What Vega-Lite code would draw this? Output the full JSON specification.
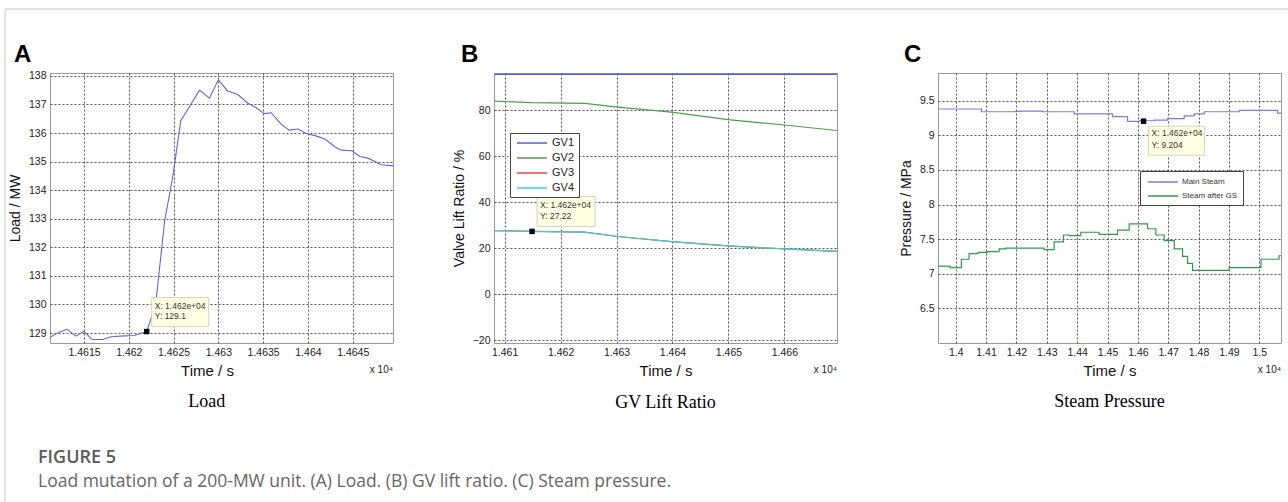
{
  "$schema": "https://vega.github.io/schema/vega-lite/v6.json",
  "background": "white",
  "padding": {"left": 4, "top": 8, "right": 0, "bottom": 0},
  "config": {
    "font": "Liberation Sans",
    "view": {"stroke": "#9a9a9a"},
    "axis": {"labelFont": "Liberation Sans", "labelFontSize": 10.5, "labelColor": "#222", "labelOverlap": false, "tickCount": 100, "titleFont": "Liberation Sans", "titleFontWeight": "normal", "titleColor": "#111", "gridColor": "#444", "gridDash": [2, 2], "gridOpacity": 0.9, "ticks": false, "domain": false, "labelPadding": 4},
    "axisX": {"titleFontSize": 15, "titlePadding": 6},
    "axisY": {"titleFontSize": 14, "titlePadding": 6}
  },
  "datasets": {
    "load": [
      {"t": 14611.2, "v": 128.85}, {"t": 14612.2, "v": 129.03}, {"t": 14613.1, "v": 129.13}, {"t": 14614.1, "v": 128.89},
      {"t": 14615.0, "v": 129.06}, {"t": 14615.9, "v": 128.77}, {"t": 14617.1, "v": 128.77}, {"t": 14618.0, "v": 128.87},
      {"t": 14619.5, "v": 128.9}, {"t": 14620.6, "v": 128.91}, {"t": 14622.0, "v": 129.05}, {"t": 14623.0, "v": 130.0},
      {"t": 14624.0, "v": 132.93}, {"t": 14624.9, "v": 134.45}, {"t": 14625.8, "v": 136.43}, {"t": 14626.6, "v": 136.83},
      {"t": 14627.9, "v": 137.5}, {"t": 14629.0, "v": 137.22}, {"t": 14630.0, "v": 137.86}, {"t": 14631.0, "v": 137.48},
      {"t": 14632.2, "v": 137.34}, {"t": 14633.3, "v": 137.04}, {"t": 14634.2, "v": 136.89}, {"t": 14635.1, "v": 136.68},
      {"t": 14635.9, "v": 136.71}, {"t": 14637.0, "v": 136.31}, {"t": 14637.9, "v": 136.1}, {"t": 14638.9, "v": 136.14},
      {"t": 14639.8, "v": 135.98}, {"t": 14640.9, "v": 135.9}, {"t": 14641.9, "v": 135.79}, {"t": 14643.0, "v": 135.52},
      {"t": 14643.7, "v": 135.4}, {"t": 14644.9, "v": 135.38}, {"t": 14645.8, "v": 135.18}, {"t": 14646.7, "v": 135.12},
      {"t": 14648.2, "v": 134.89}, {"t": 14649.5, "v": 134.85}
    ],
    "gv": [
      {"s": "GV1", "t": 14608.1, "v": 95.5}, {"s": "GV1", "t": 14669.4, "v": 95.5},
      {"s": "GV2", "t": 14608.1, "v": 83.9}, {"s": "GV2", "t": 14614.8, "v": 83.2}, {"s": "GV2", "t": 14624.3, "v": 82.9},
      {"s": "GV2", "t": 14630.2, "v": 81.3}, {"s": "GV2", "t": 14639.8, "v": 79.1}, {"s": "GV2", "t": 14649.9, "v": 75.8},
      {"s": "GV2", "t": 14660.0, "v": 73.5}, {"s": "GV2", "t": 14669.4, "v": 71.1},
      {"s": "GV3", "t": 14608.1, "v": 27.6}, {"s": "GV3", "t": 14614.8, "v": 27.22}, {"s": "GV3", "t": 14624.3, "v": 26.9},
      {"s": "GV3", "t": 14630.2, "v": 25.0}, {"s": "GV3", "t": 14639.8, "v": 22.8}, {"s": "GV3", "t": 14649.9, "v": 20.9},
      {"s": "GV3", "t": 14660.0, "v": 19.6}, {"s": "GV3", "t": 14669.4, "v": 18.5},
      {"s": "GV4", "t": 14608.1, "v": 27.6}, {"s": "GV4", "t": 14614.8, "v": 27.22}, {"s": "GV4", "t": 14624.3, "v": 26.9},
      {"s": "GV4", "t": 14630.2, "v": 25.0}, {"s": "GV4", "t": 14639.8, "v": 22.8}, {"s": "GV4", "t": 14649.9, "v": 20.9},
      {"s": "GV4", "t": 14660.0, "v": 19.6}, {"s": "GV4", "t": 14669.4, "v": 18.5}
    ],
    "pressure": [
      {"s": "Main Steam", "t": 13941.8, "v": 9.38}, {"s": "Main Steam", "t": 14084.6, "v": 9.34}, {"s": "Main Steam", "t": 14197.8, "v": 9.345},
      {"s": "Main Steam", "t": 14214.3, "v": 9.35}, {"s": "Main Steam", "t": 14285.7, "v": 9.34}, {"s": "Main Steam", "t": 14390.1, "v": 9.31},
      {"s": "Main Steam", "t": 14516.5, "v": 9.27}, {"s": "Main Steam", "t": 14565.9, "v": 9.2}, {"s": "Main Steam", "t": 14604.4, "v": 9.21},
      {"s": "Main Steam", "t": 14653.8, "v": 9.22}, {"s": "Main Steam", "t": 14697.8, "v": 9.24}, {"s": "Main Steam", "t": 14752.7, "v": 9.28},
      {"s": "Main Steam", "t": 14785.7, "v": 9.31}, {"s": "Main Steam", "t": 14818.7, "v": 9.34}, {"s": "Main Steam", "t": 14934.1, "v": 9.36},
      {"s": "Main Steam", "t": 15060.4, "v": 9.32}, {"s": "Main Steam", "t": 15071.5, "v": 9.32},
      {"s": "Steam after GS", "t": 13941.8, "v": 7.11}, {"s": "Steam after GS", "t": 13981.3, "v": 7.09}, {"s": "Steam after GS", "t": 14018.7, "v": 7.21},
      {"s": "Steam after GS", "t": 14044.0, "v": 7.29}, {"s": "Steam after GS", "t": 14073.6, "v": 7.31}, {"s": "Steam after GS", "t": 14104.4, "v": 7.32},
      {"s": "Steam after GS", "t": 14142.9, "v": 7.36}, {"s": "Steam after GS", "t": 14164.8, "v": 7.37}, {"s": "Steam after GS", "t": 14291.2, "v": 7.35},
      {"s": "Steam after GS", "t": 14324.2, "v": 7.46}, {"s": "Steam after GS", "t": 14354.9, "v": 7.56}, {"s": "Steam after GS", "t": 14373.6, "v": 7.55},
      {"s": "Steam after GS", "t": 14412.1, "v": 7.6}, {"s": "Steam after GS", "t": 14472.5, "v": 7.57}, {"s": "Steam after GS", "t": 14533.0, "v": 7.63},
      {"s": "Steam after GS", "t": 14571.4, "v": 7.72}, {"s": "Steam after GS", "t": 14631.9, "v": 7.65}, {"s": "Steam after GS", "t": 14659.3, "v": 7.56},
      {"s": "Steam after GS", "t": 14686.8, "v": 7.48}, {"s": "Steam after GS", "t": 14719.8, "v": 7.36}, {"s": "Steam after GS", "t": 14747.3, "v": 7.25},
      {"s": "Steam after GS", "t": 14763.7, "v": 7.15}, {"s": "Steam after GS", "t": 14780.2, "v": 7.05}, {"s": "Steam after GS", "t": 14901.1, "v": 7.09},
      {"s": "Steam after GS", "t": 15005.5, "v": 7.21}, {"s": "Steam after GS", "t": 15065.0, "v": 7.26}, {"s": "Steam after GS", "t": 15071.5, "v": 7.26}
    ]
  },
  "bounds": "flush",
  "spacing": 101,
  "resolve": {"scale": {"color": "independent"}, "legend": {"color": "independent"}},
  "hconcat": [
    {
      "width": 343, "height": 270,
      "layer": [
        {
          "data": {"name": "load"},
          "mark": {"type": "line", "clip": true, "color": "#6464dc", "strokeWidth": 1.1},
          "encoding": {
            "x": {"field": "t", "type": "quantitative", "scale": {"domain": [14611.2, 14649.5], "nice": false, "zero": false},
                  "axis": {"title": "Time / s", "values": [14615, 14620, 14625, 14630, 14635, 14640, 14645], "labelExpr": "format(datum.value/10000, '.4~f')", "titleX": 157}},
            "y": {"field": "v", "type": "quantitative", "scale": {"domain": [128.65, 138.1], "nice": false, "zero": false},
                  "axis": {"title": "Load / MW", "values": [129, 130, 131, 132, 133, 134, 135, 136, 137, 138], "format": "d"}}
          }
        },
        {
          "data": {"values": [{"t": 14622.0, "v": 129.05, "tip": "X: 1.462e+04\nY: 129.1"}]},
          "layer": [
            {"mark": {"type": "rect", "fill": "#ffffe4", "stroke": "#d6d6b4", "strokeWidth": 1, "xOffset": 5, "x2Offset": 62, "yOffset": -34, "y2Offset": -5},
             "encoding": {"x": {"field": "t", "type": "quantitative"}, "x2": {"field": "t"}, "y": {"field": "v", "type": "quantitative"}, "y2": {"field": "v"}}},
            {"mark": {"type": "text", "align": "left", "baseline": "top", "dx": 8, "dy": -30, "fontSize": 8.5, "lineHeight": 10, "lineBreak": "\n", "color": "#333"},
             "encoding": {"x": {"field": "t", "type": "quantitative"}, "y": {"field": "v", "type": "quantitative"}, "text": {"field": "tip"}}},
            {"mark": {"type": "square", "filled": true, "color": "black", "size": 30, "opacity": 1},
             "encoding": {"x": {"field": "t", "type": "quantitative"}, "y": {"field": "v", "type": "quantitative"}}}
          ]
        },
        {
          "data": {"values": [{"label": "A"}]},
          "mark": {"type": "text", "align": "left", "baseline": "alphabetic", "dx": -36, "dy": -11, "fontSize": 24, "fontWeight": "bold", "color": "black"},
          "encoding": {"x": {"datum": 14611.2, "type": "quantitative"}, "y": {"datum": 138.1, "type": "quantitative"}, "text": {"field": "label"}}
        },
        {
          "data": {"values": [{"label": "x 10⁴"}]},
          "mark": {"type": "text", "align": "right", "baseline": "alphabetic", "dy": 30, "fontSize": 10, "color": "#222"},
          "encoding": {"x": {"datum": 14649.5, "type": "quantitative"}, "y": {"datum": 128.65, "type": "quantitative"}, "text": {"field": "label"}}
        },
        {
          "data": {"values": [{"label": "Load"}]},
          "mark": {"type": "text", "align": "center", "baseline": "alphabetic", "dy": 64, "font": "Liberation Serif", "fontSize": 18, "color": "black"},
          "encoding": {"x": {"datum": 14628.7, "type": "quantitative"}, "y": {"datum": 128.65, "type": "quantitative"}, "text": {"field": "label"}}
        },
        {
          "data": {"values": [{"label": "FIGURE 5"}]},
          "mark": {"type": "text", "align": "left", "baseline": "alphabetic", "dx": -12, "dy": 120, "font": "Open Sans", "fontSize": 18, "fontWeight": 600, "color": "#5a5a5a"},
          "encoding": {"x": {"datum": 14611.2, "type": "quantitative"}, "y": {"datum": 128.65, "type": "quantitative"}, "text": {"field": "label"}}
        },
        {
          "data": {"values": [{"label": "Load mutation of a 200-MW unit. (A) Load. (B) GV lift ratio. (C) Steam pressure."}]},
          "mark": {"type": "text", "align": "left", "baseline": "alphabetic", "dx": -12, "dy": 144, "font": "Open Sans", "fontSize": 17.5, "color": "#666"},
          "encoding": {"x": {"datum": 14611.2, "type": "quantitative"}, "y": {"datum": 128.65, "type": "quantitative"}, "text": {"field": "label"}}
        },
        {
          "data": {"values": [{"edge": "top"}]},
          "mark": {"type": "rule", "color": "#c8c8c8", "strokeWidth": 1, "xOffset": -45, "x2Offset": 900, "yOffset": -64, "y2Offset": -64},
          "encoding": {"x": {"datum": 14611.2, "type": "quantitative"}, "x2": {"datum": 14649.5}, "y": {"datum": 138.1, "type": "quantitative"}, "y2": {"datum": 138.1}}
        },
        {
          "data": {"values": [{"edge": "left"}]},
          "mark": {"type": "rule", "color": "#c8c8c8", "strokeWidth": 1, "xOffset": -45, "x2Offset": -45, "yOffset": -64, "y2Offset": 165},
          "encoding": {"x": {"datum": 14611.2, "type": "quantitative"}, "x2": {"datum": 14611.2}, "y": {"datum": 138.1, "type": "quantitative"}, "y2": {"datum": 128.65}}
        }
      ]
    },
    {
      "width": 343, "height": 270,
      "layer": [
        {
          "data": {"name": "gv"},
          "mark": {"type": "line", "clip": true, "strokeWidth": 1.2},
          "encoding": {
            "x": {"field": "t", "type": "quantitative", "scale": {"domain": [14608.1, 14669.4], "nice": false, "zero": false},
                  "axis": {"title": "Time / s", "values": [14610, 14620, 14630, 14640, 14650, 14660], "labelExpr": "format(datum.value/10000, '.4~f')"}},
            "y": {"field": "v", "type": "quantitative", "scale": {"domain": [-21.3, 96.1], "nice": false, "zero": false},
                  "axis": {"title": "Valve Lift Ratio / %", "values": [-20, 0, 20, 40, 60, 80], "format": "d"}},
            "color": {"field": "s", "type": "nominal", "scale": {"domain": ["GV1", "GV2", "GV3", "GV4"], "range": ["#5a5ade", "#4aa04a", "#e04848", "#3ccfcf"]},
                      "legend": {"title": null, "orient": "none", "legendX": 16, "legendY": 60, "symbolType": "M-3,0H3", "symbolSize": 100, "symbolStrokeWidth": 1.5, "symbolOffset": 12,
                                 "labelFontSize": 11, "labelFont": "Liberation Sans", "labelColor": "#222", "strokeColor": "#444", "fillColor": "white", "padding": 4, "rowPadding": 4, "labelOffset": 14}}
          }
        },
        {
          "data": {"values": [{"t": 14614.9, "v": 27.22, "tip": "X: 1.462e+04\nY: 27.22"}]},
          "layer": [
            {"mark": {"type": "rect", "fill": "#ffffe4", "stroke": "#d6d6b4", "strokeWidth": 1, "xOffset": 5, "x2Offset": 63, "yOffset": -35, "y2Offset": -5},
             "encoding": {"x": {"field": "t", "type": "quantitative"}, "x2": {"field": "t"}, "y": {"field": "v", "type": "quantitative"}, "y2": {"field": "v"}}},
            {"mark": {"type": "text", "align": "left", "baseline": "top", "dx": 8, "dy": -30, "fontSize": 8.5, "lineHeight": 11, "lineBreak": "\n", "color": "#333"},
             "encoding": {"x": {"field": "t", "type": "quantitative"}, "y": {"field": "v", "type": "quantitative"}, "text": {"field": "tip"}}},
            {"mark": {"type": "square", "filled": true, "color": "black", "size": 30, "opacity": 1},
             "encoding": {"x": {"field": "t", "type": "quantitative"}, "y": {"field": "v", "type": "quantitative"}}}
          ]
        },
        {
          "data": {"values": [{"label": "B"}]},
          "mark": {"type": "text", "align": "left", "baseline": "alphabetic", "dx": -33, "dy": -11, "fontSize": 24, "fontWeight": "bold", "color": "black"},
          "encoding": {"x": {"datum": 14608.1, "type": "quantitative"}, "y": {"datum": 96.1, "type": "quantitative"}, "text": {"field": "label"}}
        },
        {
          "data": {"values": [{"label": "x 10⁴"}]},
          "mark": {"type": "text", "align": "right", "baseline": "alphabetic", "dy": 30, "fontSize": 10, "color": "#222"},
          "encoding": {"x": {"datum": 14669.4, "type": "quantitative"}, "y": {"datum": -21.3, "type": "quantitative"}, "text": {"field": "label"}}
        },
        {
          "data": {"values": [{"label": "GV Lift Ratio"}]},
          "mark": {"type": "text", "align": "center", "baseline": "alphabetic", "dy": 65, "font": "Liberation Serif", "fontSize": 18, "color": "black"},
          "encoding": {"x": {"datum": 14638.75, "type": "quantitative"}, "y": {"datum": -21.3, "type": "quantitative"}, "text": {"field": "label"}}
        }
      ]
    },
    {
      "width": 343, "height": 270,
      "layer": [
        {
          "data": {"name": "pressure"},
          "mark": {"type": "line", "clip": true, "strokeWidth": 1.2, "interpolate": "step-after"},
          "encoding": {
            "x": {"field": "t", "type": "quantitative", "scale": {"domain": [13941.6, 15071.5], "nice": false, "zero": false},
                  "axis": {"title": "Time / s", "values": [14000, 14100, 14200, 14300, 14400, 14500, 14600, 14700, 14800, 14900, 15000], "labelExpr": "format(datum.value/10000, '.4~f')"}},
            "y": {"field": "v", "type": "quantitative", "scale": {"domain": [6.0, 9.9], "nice": false, "zero": false},
                  "axis": {"title": "Pressure / MPa", "values": [6.5, 7, 7.5, 8, 8.5, 9, 9.5], "format": "~g"}},
            "color": {"field": "s", "type": "nominal", "scale": {"domain": ["Main Steam", "Steam after GS"], "range": ["#7c7ce6", "#2f9a48"]},
                      "legend": {"title": null, "orient": "none", "legendX": 202, "legendY": 98, "symbolType": "M-3,0H3", "symbolSize": 100, "symbolStrokeWidth": 1.5, "symbolOffset": 12,
                                 "labelFontSize": 8, "labelFont": "Liberation Sans", "labelColor": "#333", "strokeColor": "#444", "fillColor": "white", "padding": 5, "rowPadding": 4, "labelOffset": 13}}
          }
        },
        {
          "data": {"values": [{"t": 14618.7, "v": 9.204, "tip": "X: 1.462e+04\nY: 9.204"}]},
          "layer": [
            {"mark": {"type": "rect", "fill": "#ffffe4", "stroke": "#d6d6b4", "strokeWidth": 1, "xOffset": 5, "x2Offset": 61, "yOffset": 5, "y2Offset": 34},
             "encoding": {"x": {"field": "t", "type": "quantitative"}, "x2": {"field": "t"}, "y": {"field": "v", "type": "quantitative"}, "y2": {"field": "v"}}},
            {"mark": {"type": "text", "align": "left", "baseline": "top", "dx": 8, "dy": 8, "fontSize": 8.5, "lineHeight": 11.5, "lineBreak": "\n", "color": "#333"},
             "encoding": {"x": {"field": "t", "type": "quantitative"}, "y": {"field": "v", "type": "quantitative"}, "text": {"field": "tip"}}},
            {"mark": {"type": "square", "filled": true, "color": "black", "size": 30, "opacity": 1},
             "encoding": {"x": {"field": "t", "type": "quantitative"}, "y": {"field": "v", "type": "quantitative"}}}
          ]
        },
        {
          "data": {"values": [{"label": "C"}]},
          "mark": {"type": "text", "align": "left", "baseline": "alphabetic", "dx": -34, "dy": -11, "fontSize": 24, "fontWeight": "bold", "color": "black"},
          "encoding": {"x": {"datum": 13941.6, "type": "quantitative"}, "y": {"datum": 9.9, "type": "quantitative"}, "text": {"field": "label"}}
        },
        {
          "data": {"values": [{"label": "x 10⁴"}]},
          "mark": {"type": "text", "align": "right", "baseline": "alphabetic", "dy": 30, "fontSize": 10, "color": "#222"},
          "encoding": {"x": {"datum": 15071.5, "type": "quantitative"}, "y": {"datum": 6.0, "type": "quantitative"}, "text": {"field": "label"}}
        },
        {
          "data": {"values": [{"label": "Steam Pressure"}]},
          "mark": {"type": "text", "align": "center", "baseline": "alphabetic", "dy": 64, "font": "Liberation Serif", "fontSize": 18, "color": "black"},
          "encoding": {"x": {"datum": 14506.5, "type": "quantitative"}, "y": {"datum": 6.0, "type": "quantitative"}, "text": {"field": "label"}}
        }
      ]
    }
  ]
}
